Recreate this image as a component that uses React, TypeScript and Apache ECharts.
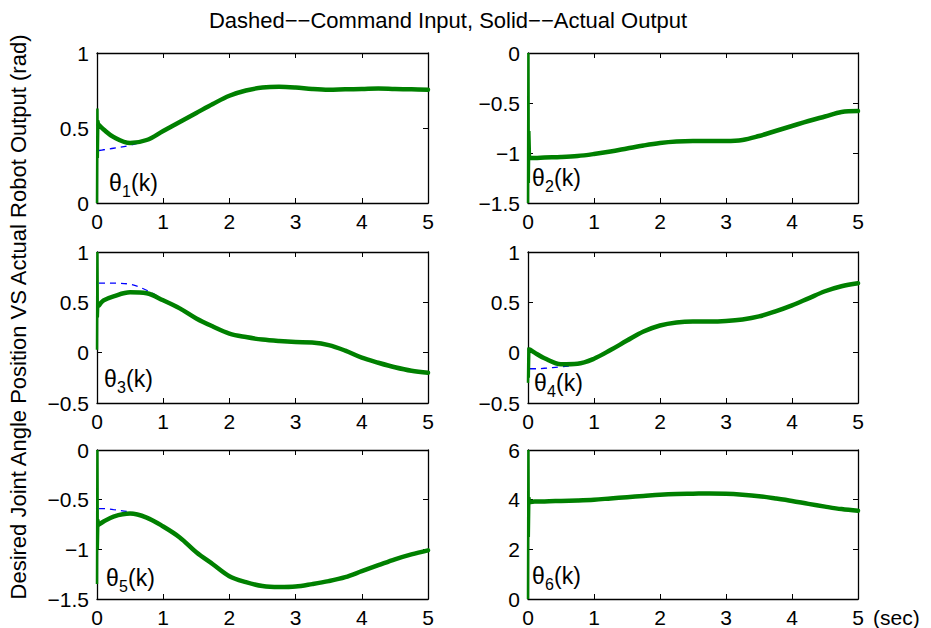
import React, { useEffect, useRef } from "react";
import * as echarts from "echarts";

// ---------- data ----------
const time = [0.03, 0.1, 0.25, 0.5, 0.75, 1, 1.25, 1.5, 1.75, 2, 2.25, 2.5, 2.75, 3, 3.25, 3.5, 3.75, 4, 4.25, 4.5, 4.75, 5];
const spikeTime = [0, 0.006, 0.012, 0.02, 0.03];

const actual1 = [0.52, 0.49, 0.44, 0.4, 0.42, 0.48, 0.54, 0.6, 0.66, 0.715, 0.75, 0.77, 0.775, 0.77, 0.76, 0.755, 0.758, 0.76, 0.763, 0.76, 0.758, 0.755];
const command1 = [0.35, 0.355, 0.365, 0.385, 0.42, 0.48, 0.54, 0.6, 0.66, 0.715, 0.75, 0.77, 0.775, 0.77, 0.76, 0.755, 0.758, 0.76, 0.763, 0.76, 0.758, 0.755];
const spike1 = [0, 0.63, 0.3, 0.55, 0.52];

const actual2 = [-1.05, -1.05, -1.045, -1.04, -1.03, -1.01, -0.985, -0.955, -0.925, -0.9, -0.885, -0.88, -0.88, -0.88, -0.87, -0.83, -0.78, -0.73, -0.68, -0.635, -0.59, -0.58];
const command2 = [-1.05, -1.05, -1.045, -1.04, -1.03, -1.01, -0.985, -0.955, -0.925, -0.9, -0.885, -0.88, -0.88, -0.88, -0.87, -0.83, -0.78, -0.73, -0.68, -0.635, -0.59, -0.58];
const spike2 = [-1.5, 0, -1.3, -0.78, -1.05];

const actual3 = [0.47, 0.52, 0.56, 0.6, 0.59, 0.52, 0.44, 0.34, 0.26, 0.19, 0.155, 0.13, 0.115, 0.105, 0.1, 0.075, 0.02, -0.05, -0.1, -0.145, -0.18, -0.2];
const command3 = [0.69, 0.69, 0.69, 0.68, 0.62, 0.53, 0.445, 0.345, 0.265, 0.195, 0.16, 0.14, 0.125, 0.115, 0.11, 0.08, 0.02, -0.05, -0.1, -0.145, -0.18, -0.2];
const spike3 = [0.03, 1, 0.35, 0.5, 0.47];

const actual4 = [0.03, 0.0, -0.056, -0.115, -0.11, -0.06, 0.026, 0.12, 0.21, 0.27, 0.3, 0.31, 0.31, 0.315, 0.33, 0.36, 0.41, 0.47, 0.54, 0.61, 0.66, 0.69];
const command4 = [-0.16, -0.16, -0.155, -0.14, -0.12, -0.065, 0.026, 0.12, 0.21, 0.27, 0.3, 0.31, 0.31, 0.315, 0.33, 0.36, 0.41, 0.47, 0.54, 0.61, 0.66, 0.69];
const spike4 = [-0.3, 0.05, -0.25, 0.04, 0.03];

const actual5 = [-0.75, -0.72, -0.67, -0.64, -0.68, -0.77, -0.88, -1.03, -1.15, -1.27, -1.33, -1.37, -1.38, -1.375, -1.35, -1.32, -1.28, -1.22, -1.16, -1.1, -1.05, -1.01];
const command5 = [-0.59, -0.59, -0.6, -0.625, -0.675, -0.77, -0.88, -1.03, -1.15, -1.27, -1.33, -1.37, -1.38, -1.375, -1.35, -1.32, -1.28, -1.22, -1.16, -1.1, -1.05, -1.01];
const spike5 = [-1.35, 0, -1.0, -0.7, -0.75];

const actual6 = [3.9, 3.93, 3.93, 3.95, 3.97, 4.0, 4.05, 4.1, 4.15, 4.2, 4.23, 4.24, 4.25, 4.24, 4.2, 4.14, 4.05, 3.95, 3.83, 3.72, 3.62, 3.55];
const command6 = [3.9, 3.93, 3.93, 3.95, 3.97, 4.0, 4.05, 4.1, 4.15, 4.2, 4.23, 4.24, 4.25, 4.24, 4.2, 4.14, 4.05, 3.95, 3.83, 3.72, 3.62, 3.55];
const spike6 = [0, 6, 2.5, 4.1, 3.9];

const actuals = [actual1, actual2, actual3, actual4, actual5, actual6];
const commands = [command1, command2, command3, command4, command5, command6];
const spikes = [spike1, spike2, spike3, spike4, spike5, spike6];

const xMin = 0;
const xMax = 5;
const xInterval = 1;
const yMins = [0, -1.5, -0.5, -0.5, -1.5, 0];
const yMaxs = [1, 0, 1, 1, 0, 6];
const yIntervals = [0.5, 0.5, 0.5, 0.5, 0.5, 2];
const jointNumbers = ["1", "2", "3", "4", "5", "6"];

const titleText = "Dashed\u2212\u2212Command Input, Solid\u2212\u2212Actual Output";
const yLabelText = "Desired Joint Angle Position VS Actual Robot Output (rad)";
const unitText = "(sec)";

// ---------- layout ----------
const FONT = "'Liberation Sans', Arial, Helvetica, sans-serif";
const GREEN = "#008000";
const BLUE = "#0000ff";
const gridRects = [
  { left: 97, top: 53, width: 331, height: 150 },
  { left: 528, top: 53, width: 330, height: 150 },
  { left: 97, top: 252, width: 331, height: 151 },
  { left: 528, top: 252, width: 330, height: 151 },
  { left: 97, top: 450, width: 331, height: 150 },
  { left: 528, top: 450, width: 330, height: 150 },
];
const thetaPos = [
  { x: 109, top: 171 },
  { x: 532, top: 166 },
  { x: 104, top: 367 },
  { x: 534, top: 371 },
  { x: 106, top: 566 },
  { x: 532, top: 564 },
];

const minusFmt = (v: number) => String(v).replace("-", "\u2212");

export default function App() {
  const ref = useRef<HTMLDivElement>(null);
  useEffect(() => {
    document.body.style.margin = "0";
    if (!ref.current) return;
    const chart = echarts.init(ref.current, null, { renderer: "svg" });

    const axisLine = { onZero: false, lineStyle: { color: "#000", width: 1.3 } };
    const tick = { inside: true, length: 5, lineStyle: { color: "#000", width: 1 } };
    const label = { color: "#000", fontSize: 21, fontFamily: FONT };

    const grid: any[] = [];
    const xAxis: any[] = [];
    const yAxis: any[] = [];
    const series: any[] = [];
    const graphic: any[] = [];

    gridRects.forEach((r, i) => {
      grid.push({ ...r, show: false });
      xAxis.push({
        gridIndex: i, type: "value", min: xMin, max: xMax, interval: xInterval, position: "bottom",
        axisLine, axisTick: tick, splitLine: { show: false },
        axisLabel: { ...label, margin: 8 },
      });
      xAxis.push({
        gridIndex: i, type: "value", min: xMin, max: xMax, interval: xInterval, position: "top",
        axisLine, axisTick: tick, splitLine: { show: false }, axisLabel: { show: false },
      });
      yAxis.push({
        gridIndex: i, type: "value", min: yMins[i], max: yMaxs[i], interval: yIntervals[i], position: "left",
        axisLine, axisTick: tick, splitLine: { show: false },
        axisLabel: { ...label, margin: 8, formatter: minusFmt },
      });
      yAxis.push({
        gridIndex: i, type: "value", min: yMins[i], max: yMaxs[i], interval: yIntervals[i], position: "right",
        axisLine, axisTick: tick, splitLine: { show: false }, axisLabel: { show: false },
      });

      series.push({
        type: "line", xAxisIndex: 2 * i, yAxisIndex: 2 * i, z: 2,
        data: time.map((t, j) => [t, commands[i][j]]),
        smooth: 0.35, symbol: "none", silent: true,
        lineStyle: { color: BLUE, width: 1.3, type: [6, 5] },
      });
      series.push({
        type: "line", xAxisIndex: 2 * i, yAxisIndex: 2 * i, z: 3,
        data: spikeTime.map((t, j) => [t, spikes[i][j]]),
        symbol: "none", silent: true,
        lineStyle: { color: GREEN, width: 2.5 },
      });
      series.push({
        type: "line", xAxisIndex: 2 * i, yAxisIndex: 2 * i, z: 4,
        data: time.map((t, j) => [t, actuals[i][j]]),
        smooth: 0.35, symbol: "none", silent: true,
        lineStyle: { color: GREEN, width: 4.5, cap: "round", join: "round" },
      });

      const p = thetaPos[i];
      graphic.push({
        type: "text", x: p.x, y: p.top, z: 10,
        style: { text: "\u03b8", fontSize: 23, fontFamily: FONT, fill: "#000", align: "left", verticalAlign: "top" },
      });
      graphic.push({
        type: "text", x: p.x + 13, y: p.top + 12, z: 10,
        style: { text: jointNumbers[i], fontSize: 16, fontFamily: FONT, fill: "#000", align: "left", verticalAlign: "top" },
      });
      graphic.push({
        type: "text", x: p.x + 22, y: p.top, z: 10,
        style: { text: "(k)", fontSize: 23, fontFamily: FONT, fill: "#000", align: "left", verticalAlign: "top" },
      });
    });

    graphic.push({
      type: "text", x: 448, y: 20, z: 10,
      style: { text: titleText, fontSize: 22, fontFamily: FONT, fill: "#000", align: "center", verticalAlign: "middle" },
    });
    graphic.push({
      type: "text", x: 18, y: 317, rotation: Math.PI / 2, z: 10,
      style: { text: yLabelText, fontSize: 22, fontFamily: FONT, fill: "#000", align: "center", verticalAlign: "middle" },
    });
    graphic.push({
      type: "text", x: 873, y: 617, z: 10,
      style: { text: unitText, fontSize: 21, fontFamily: FONT, fill: "#000", align: "left", verticalAlign: "middle" },
    });

    chart.setOption({
      animation: false,
      backgroundColor: "#fff",
      grid, xAxis, yAxis, series, graphic,
    });
    return () => chart.dispose();
  }, []);

  return (
    <div
      ref={ref}
      style={{ position: "absolute", left: 0, top: 0, width: 931, height: 628 }}
    />
  );
}
